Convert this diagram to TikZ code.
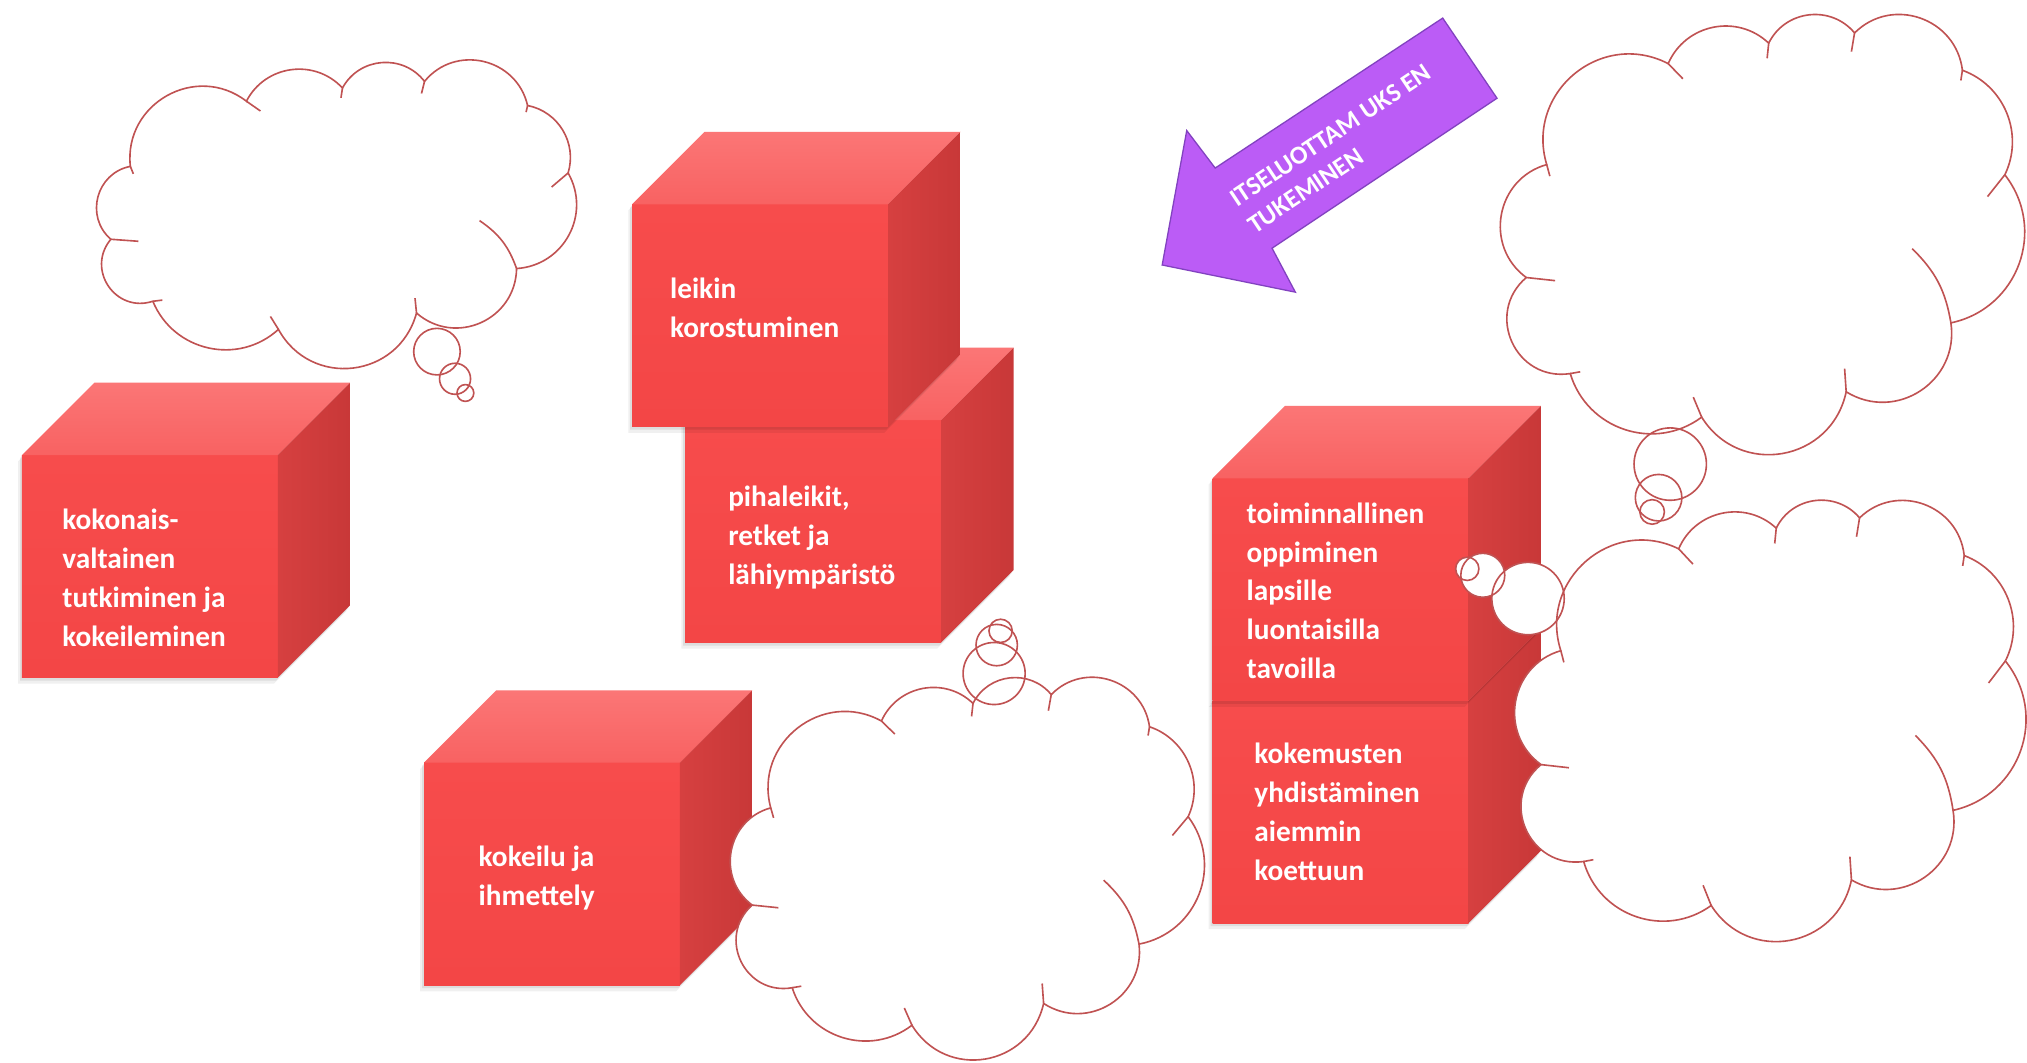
\documentclass[tikz,border=0pt]{standalone}
\usepackage{fontspec}
\setmainfont{Carlito}
\usetikzlibrary{calc}

\definecolor{cubeface}{RGB}{247,76,76}
\definecolor{cubefacelow}{RGB}{243,70,70}
\definecolor{cubetop}{RGB}{251,118,118}
\definecolor{cubetoplow}{RGB}{248,98,98}
\definecolor{cubeside}{RGB}{214,64,64}
\definecolor{cubesidefar}{RGB}{200,56,56}
\definecolor{cloudred}{RGB}{192,82,82}
\definecolor{arrowviolet}{RGB}{187,92,246}
\definecolor{arrowedge}{RGB}{130,66,192}

\newcommand\cubefont{\fontsize{13.6pt}{18pt}\selectfont\bfseries}
\newcommand\arrowfont{\fontsize{12pt}{15pt}\selectfont\bfseries}

% one red block: name, front top-left corner (x,y), label anchor (x,y), label
\newcommand\drawcube[6]{%
  \foreach \s/\o in {3/0.06,1.5/0.08}{%
    \fill[black,opacity=\o] ({#2-\s},{#3+1.6*\s}) -- ++(56,-56) -- ++(198,0)
      -- ++(0,172) -- ++(-56,56) -- ++(-198,0) -- cycle;}
  \node[cubefront] (#1) at (#2,#3) {};
  \shade[top color=cubetop,bottom color=cubetoplow]
    (#1.north west) -- ++(56,-56) -- ++(198,0) -- (#1.north east) -- cycle;
  \shade[left color=cubeside,right color=cubesidefar]
    (#1.north east) -- ++(56,-56) -- ++(0,172) -- (#1.south east) -- cycle;
  \node[cubelabel] (#1-text) at (#4,#5) {#6};
}

% thought clouds in a unit box placed at (x,y) with size w x h
\newcommand\setcloud[4]{\def\cX{#1}\def\cY{#2}\def\cW{#3}\def\cH{#4}}
\newcommand\cq[2]{({\cX+(#1)*\cW},{\cY+(#2)*\cH})}
\newcommand\cloudoutline{%
  \cq{0.090}{0.341} to[bend left=67,looseness=1.22] \cq{0.322}{0.114}
  to[bend left=55,looseness=1.08] \cq{0.514}{0.068}
  to[bend left=57,looseness=1.10] \cq{0.678}{0.045}
  to[bend left=64,looseness=1.18] \cq{0.884}{0.129}
  to[bend left=48,looseness=1.02] \cq{0.965}{0.364}
  to[bend left=58,looseness=1.12] \cq{0.862}{0.697}
  to[bend left=65,looseness=1.20] \cq{0.662}{0.852}
  to[bend left=68,looseness=1.25] \cq{0.386}{0.909}
  to[bend left=55,looseness=1.08] \cq{0.135}{0.811}
  to[bend left=74,looseness=1.34] \cq{0.051}{0.595}
  to[bend left=64,looseness=1.18] \cq{0.090}{0.341} -- cycle}
\newcommand\cloudticks{%
  \cq{0.322}{0.114} -- \cq{0.350}{0.148}
  \cq{0.514}{0.068} -- \cq{0.511}{0.102}
  \cq{0.678}{0.045} -- \cq{0.672}{0.087}
  \cq{0.884}{0.129} -- \cq{0.881}{0.152}
  \cq{0.965}{0.364} -- \cq{0.932}{0.413}
  \cq{0.862}{0.697} to[bend right=18] \cq{0.788}{0.530}
  \cq{0.662}{0.852} -- \cq{0.659}{0.800}
  \cq{0.386}{0.909} -- \cq{0.370}{0.864}
  \cq{0.135}{0.811} -- \cq{0.154}{0.807}
  \cq{0.051}{0.595} -- \cq{0.106}{0.602}
  \cq{0.090}{0.341} -- \cq{0.096}{0.367}}
% cloud with its three bubbles: box, then three circles (x/y/r)
\newcommand\drawcloud[7]{%
  \setcloud{#1}{#2}{#3}{#4}%
  \edef\cloudP{\cloudoutline}%
  \edef\cloudT{\cloudticks}%
  \fill[white] \cloudP;
  \foreach \bx/\by/\br in {#5,#6,#7} \fill[white] (\bx,\by) circle[radius=\br];
  \draw[cloudline] \cloudP;
  \draw[cloudline] \cloudT;
  \foreach \bx/\by/\br in {#5,#6,#7} \draw[cloudline] (\bx,\by) circle[radius=\br];
}

\tikzset{
  cubefront/.style={top color=cubeface,bottom color=cubefacelow,draw=none,
    minimum width=118.8pt,minimum height=103.2pt,inner sep=0pt,outer sep=0pt,
    anchor=north west},
  cubelabel/.style={text=white,font=\cubefont,align=left,anchor=west,inner sep=0pt},
  cloudline/.style={draw=cloudred,line width=0.75pt},
  arrowbody/.style={fill=arrowviolet,draw=arrowedge,line width=0.6pt,line join=miter},
  arrowlabel/.style={text=white,font=\arrowfont,align=left,inner sep=0pt}
}

\begin{document}
\begin{tikzpicture}[x=0.6pt,y=-0.6pt]
\useasboundingbox (0,0) rectangle (1568,822);
\fill[white] (0,0) rectangle (1568,822);

% left block and its cloud
\drawcube{kok}{17}{352}{48}{447}{kokonais-\\valtainen\\tutkiminen ja\\kokeileminen}
\drawcloud{66}{53}{387}{222}{338/272/18}{352/293/12}{360/304/6.5}

% stacked pair in the middle
\drawcube{piha}{530}{325}{563}{416}{pihaleikit,\\retket ja\\lähiympäristö}
\drawcube{leik}{489}{158}{518}{238}{leikin\\korostuminen}

% stacked pair on the right
\drawcube{koke}{938}{542}{970}{628}{kokemusten\\yhdistäminen\\aiemmin\\koettuun}
\drawcube{toim}{938}{370}{964}{457}{toiminnallinen\\oppiminen\\lapsille\\luontaisilla\\tavoilla}

% lower block
\drawcube{ihme}{328}{590}{370}{679}{kokeilu ja\\ihmettely}

% clouds
\drawcloud{563}{524}{369}{296}{769/521/24}{771/499/16}{774/488/9}
\drawcloud{1160}{10}{405}{344}{1292/359/28}{1283/385/18}{1278/396/9.5}
\drawcloud{1172}{385}{393}{347}{1182/463/28}{1147/445/17}{1135/440/9}

% violet arrow
\coordinate (tip) at (899,205);
\draw[arrowbody] (tip) -- (918,101) -- (940,130) -- (1116,14) -- (1158,76)
  -- (984,192) -- (1002,226) -- cycle;
\node[arrowlabel,rotate=33.7] (itse) at (1036,115) {ITSELUOTTAM UKS EN\\TUKEMINEN};
\end{tikzpicture}
\end{document}
